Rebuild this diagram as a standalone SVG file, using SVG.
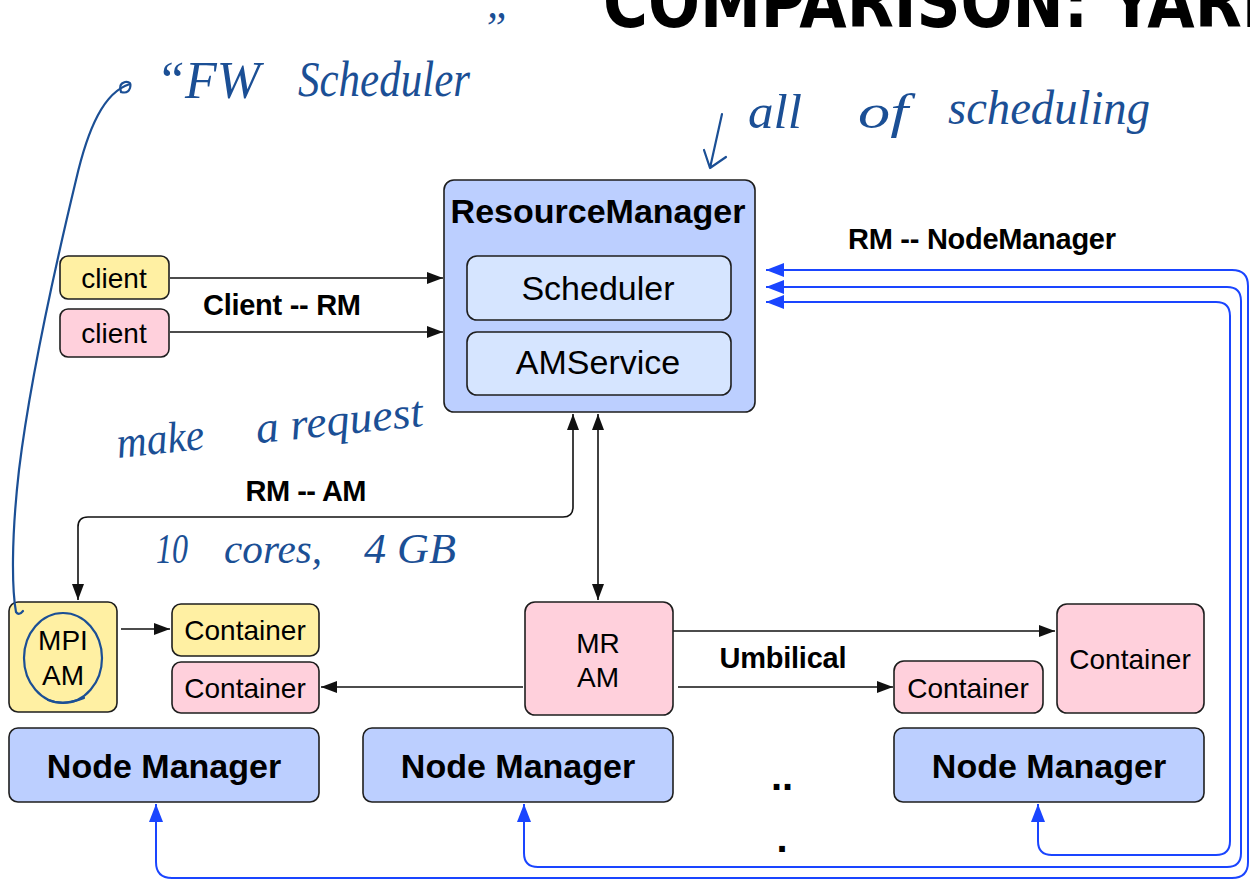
<svg xmlns="http://www.w3.org/2000/svg" width="1250" height="880" viewBox="0 0 1250 880">
  <style>
    .box { stroke: #1e1e1e; stroke-width: 1.6; }
    .yellow { fill: #fff0a3; }
    .pink { fill: #ffd0dc; }
    .rm { fill: #bccfff; }
    .inner { fill: #d6e5ff; }
    .nm { fill: #bccfff; }
    .t { font-family: "Liberation Sans", Arial, sans-serif; fill: #000; text-anchor: middle; }
    .b { font-weight: bold; }
    .wire { fill: none; stroke: #111; stroke-width: 1.6; }
    .bus { fill: none; stroke: #1a45ff; stroke-width: 2; }
    .ink { fill: none; stroke: #1b4f95; stroke-width: 2.2; stroke-linecap: round; stroke-linejoin: round; }
    .hand { font-family: "Liberation Serif", "DejaVu Serif", serif; font-style: italic; fill: #1b4f95; }
  </style>
  <defs>
    <marker id="ah" viewBox="0 0 16 12" refX="16" refY="6" markerWidth="16" markerHeight="12" markerUnits="userSpaceOnUse" orient="auto-start-reverse">
      <path d="M0,0 L16,6 L0,12 z" fill="#111"/>
    </marker>
    <marker id="bh" viewBox="0 0 18 14" refX="18" refY="7" markerWidth="18" markerHeight="14" markerUnits="userSpaceOnUse" orient="auto-start-reverse">
      <path d="M0,0 L18,7 L0,14 z" fill="#1a45ff"/>
    </marker>
  </defs>

  <rect width="1250" height="880" fill="#ffffff"/>

  <!-- slide title, running past the top edge -->
  <text x="603" y="27" font-family="'Liberation Sans Narrow', 'DejaVu Sans Condensed', 'Liberation Sans', sans-serif" font-weight="bold" font-size="72" textLength="690" lengthAdjust="spacingAndGlyphs" fill="#000">COMPARISON: YARN</text>

  <!-- connectors -->
  <g id="connectors">
    <path class="wire" d="M170 278 H443" marker-end="url(#ah)"/>
    <path class="wire" d="M170 332 H443" marker-end="url(#ah)"/>
    <path class="wire" d="M78 600 V527 Q78 517 88 517 H563 Q573 517 573 507 V414" marker-start="url(#ah)" marker-end="url(#ah)"/>
    <path class="wire" d="M598 414 V600" marker-start="url(#ah)" marker-end="url(#ah)"/>
    <path class="wire" d="M121 629 H170" marker-end="url(#ah)"/>
    <path class="wire" d="M523 687 H321" marker-end="url(#ah)"/>
    <path class="wire" d="M673 631 H1055" marker-end="url(#ah)"/>
    <path class="wire" d="M678 687 H893" marker-end="url(#ah)"/>

    <path class="bus" d="M766 270 H1232 Q1248 270 1248 286 V862 Q1248 878 1232 878 H172 Q156 878 156 862 V804" marker-start="url(#bh)" marker-end="url(#bh)"/>
    <path class="bus" d="M766 287 H1227 Q1241 287 1241 301 V853 Q1241 867 1227 867 H538 Q524 867 524 853 V804" marker-start="url(#bh)" marker-end="url(#bh)"/>
    <path class="bus" d="M766 302 H1216 Q1230 302 1230 316 V841 Q1230 855 1216 855 H1052 Q1038 855 1038 841 V804" marker-start="url(#bh)" marker-end="url(#bh)"/>

    <text class="t b" x="282" y="315" font-size="29" textLength="158">Client -- RM</text>
    <text class="t b" x="306" y="501" font-size="29" textLength="121">RM -- AM</text>
    <text class="t b" x="982" y="249" font-size="29" textLength="268">RM -- NodeManager</text>
    <text class="t b" x="783" y="668" font-size="29" textLength="127">Umbilical</text>
  </g>

  <!-- clients -->
  <g id="client-yellow">
    <rect class="box yellow" x="60" y="256" width="109" height="43" rx="8"/>
    <text class="t" x="114" y="288" font-size="28">client</text>
  </g>
  <g id="client-pink">
    <rect class="box pink" x="60" y="309" width="109" height="48" rx="8"/>
    <text class="t" x="114" y="343" font-size="28">client</text>
  </g>

  <!-- resource manager -->
  <g id="resource-manager">
    <rect class="box rm" x="444" y="180" width="311" height="232" rx="10"/>
    <text class="t b" x="598" y="223" font-size="34">ResourceManager</text>
    <rect class="box inner" x="467" y="256" width="264" height="64" rx="10"/>
    <text class="t" x="598" y="300" font-size="34">Scheduler</text>
    <rect class="box inner" x="467" y="332" width="264" height="63" rx="10"/>
    <text class="t" x="598" y="374" font-size="34">AMService</text>
  </g>

  <!-- left node -->
  <g id="mpi-am">
    <rect class="box yellow" x="9" y="602" width="108" height="110" rx="9"/>
    <text class="t" x="63" y="650" font-size="28">MPI</text>
    <text class="t" x="63" y="685" font-size="28">AM</text>
  </g>
  <g id="container-yellow">
    <rect class="box yellow" x="172" y="604" width="147" height="52" rx="9"/>
    <text class="t" x="245" y="640" font-size="28">Container</text>
  </g>
  <g id="container-pink-left">
    <rect class="box pink" x="172" y="662" width="147" height="51" rx="9"/>
    <text class="t" x="245" y="698" font-size="28">Container</text>
  </g>
  <g id="node-manager-1">
    <rect class="box nm" x="9" y="728" width="310" height="74" rx="9"/>
    <text class="t b" x="164" y="778" font-size="34">Node Manager</text>
  </g>

  <!-- middle node -->
  <g id="mr-am">
    <rect class="box pink" x="525" y="602" width="148" height="113" rx="10"/>
    <text class="t" x="598" y="653" font-size="28">MR</text>
    <text class="t" x="598" y="687" font-size="28">AM</text>
  </g>
  <g id="node-manager-2">
    <rect class="box nm" x="363" y="728" width="310" height="74" rx="9"/>
    <text class="t b" x="518" y="778" font-size="34">Node Manager</text>
  </g>

  <g id="ellipsis">
    <text class="t b" x="782" y="790" font-size="40">..</text>
    <text class="t b" x="782" y="852" font-size="40">.</text>
  </g>

  <!-- right node -->
  <g id="container-pink-small">
    <rect class="box pink" x="894" y="661" width="149" height="52" rx="10"/>
    <text class="t" x="968" y="698" font-size="28">Container</text>
  </g>
  <g id="container-pink-large">
    <rect class="box pink" x="1057" y="604" width="147" height="109" rx="10"/>
    <text class="t" x="1130" y="669" font-size="28">Container</text>
  </g>
  <g id="node-manager-3">
    <rect class="box nm" x="894" y="728" width="310" height="74" rx="9"/>
    <text class="t b" x="1049" y="778" font-size="34">Node Manager</text>
  </g>

  <!-- pen notes -->
  <g id="notes">
    <text class="hand" x="156" y="98" font-size="52">“FW</text>
    <text class="hand" x="298" y="96" font-size="50" textLength="172" lengthAdjust="spacingAndGlyphs">Scheduler</text>
    <text class="hand" x="482" y="42" font-size="44">”</text>
    <path class="ink" d="M130 84 C104 92 88 128 76 180 C52 280 30 380 19 470 C11 540 12 590 16 612 Q19 616 23 611"/>
    <path class="ink" d="M121 92 Q118 84 125 82 Q132 81 130 88 Q128 94 121 92"/>

    <text class="hand" x="748" y="128" font-size="48" textLength="54" lengthAdjust="spacingAndGlyphs">all</text>
    <text class="hand" x="858" y="128" font-size="48" textLength="50" lengthAdjust="spacingAndGlyphs">of</text>
    <text class="hand" x="948" y="124" font-size="48" textLength="202" lengthAdjust="spacingAndGlyphs">scheduling</text>
    <path class="ink" d="M722 114 L710 168 M704 150 L710 168 L726 157"/>

    <g transform="rotate(-6 118 458)">
      <text class="hand" x="118" y="458" font-size="44" textLength="88" lengthAdjust="spacingAndGlyphs">make</text>
      <text class="hand" x="258" y="458" font-size="44" textLength="168" lengthAdjust="spacingAndGlyphs">a request</text>
    </g>
    <text class="hand" x="156" y="563" font-size="42" textLength="32" lengthAdjust="spacingAndGlyphs">10</text>
    <text class="hand" x="224" y="563" font-size="42" textLength="98" lengthAdjust="spacingAndGlyphs">cores,</text>
    <text class="hand" x="364" y="563" font-size="42" textLength="92" lengthAdjust="spacingAndGlyphs">4 GB</text>

    <ellipse class="ink" cx="63" cy="658" rx="39" ry="45"/>
    <path class="ink" d="M48 700 Q64 706 84 698"/>
  </g>
</svg>
